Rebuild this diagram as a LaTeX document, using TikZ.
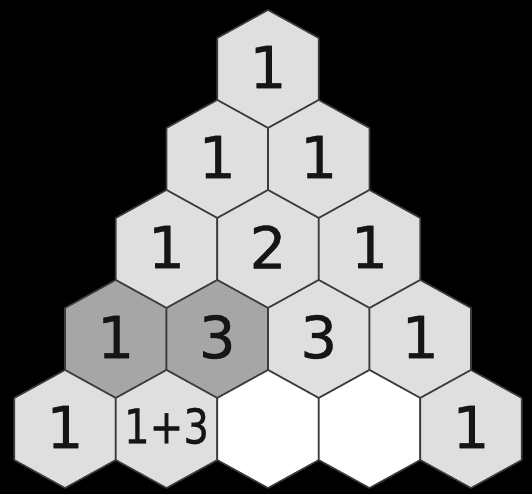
\documentclass[tikz,border=0pt]{standalone}
\usepackage{fontspec}
\setmainfont{DejaVu Sans}
\newfontfamily\cellfont{DejaVu Sans}[FakeBold=0.7]
\usepackage{graphicx}
\usetikzlibrary{calc}

\definecolor{cellgray}{HTML}{DFDFDF}
\definecolor{cellshade}{HTML}{A6A6A6}
\definecolor{celledge}{HTML}{3C3C3C}
\definecolor{numink}{HTML}{151515}

\tikzset{
  hexcell/.style={draw=celledge, line width=1.6pt, line join=round},
  numtext/.style={text=numink, inner sep=0pt, font=\cellfont\fontsize{58}{58}\selectfont},
  sumtext/.style={text=numink, inner sep=0pt, font=\cellfont\fontsize{48}{48}\selectfont}
}

\begin{document}
\begin{tikzpicture}[x=1pt,y=-1pt]

% Background
\fill[black] (0,0) rectangle (532,494);
\useasboundingbox (0,0) rectangle (532,494);

% Cells of the triangle: row/position/fill/number
\foreach \r/\k/\fillc/\txt in {
  0/0/cellgray/1,
  1/0/cellgray/1, 1/1/cellgray/1,
  2/0/cellgray/1, 2/1/cellgray/2, 2/2/cellgray/1,
  3/0/cellshade/1, 3/1/cellshade/3, 3/2/cellgray/3, 3/3/cellgray/1,
  4/0/cellgray/1, 4/1/cellgray/, 4/2/white/, 4/3/white/, 4/4/cellgray/1} {
\coordinate (c\r\k) at ({268+(\k-\r/2)*101.5}, {69+90*\r});
\draw[hexcell, fill=\fillc, shift={(c\r\k)}]
  (0,-59) -- (50.75,-31) -- (50.75,31) -- (0,59) -- (-50.75,31) -- (-50.75,-31) -- cycle;
\node[numtext] (n\r\k) at ($(c\r\k)+(0,-2)$) {\txt};
}

% Sum in the bottom row
\node[sumtext] (sum41) at ($(c41)+(0,-3)$) {\scalebox{0.84}[1]{1+3}};

\end{tikzpicture}
\end{document}
